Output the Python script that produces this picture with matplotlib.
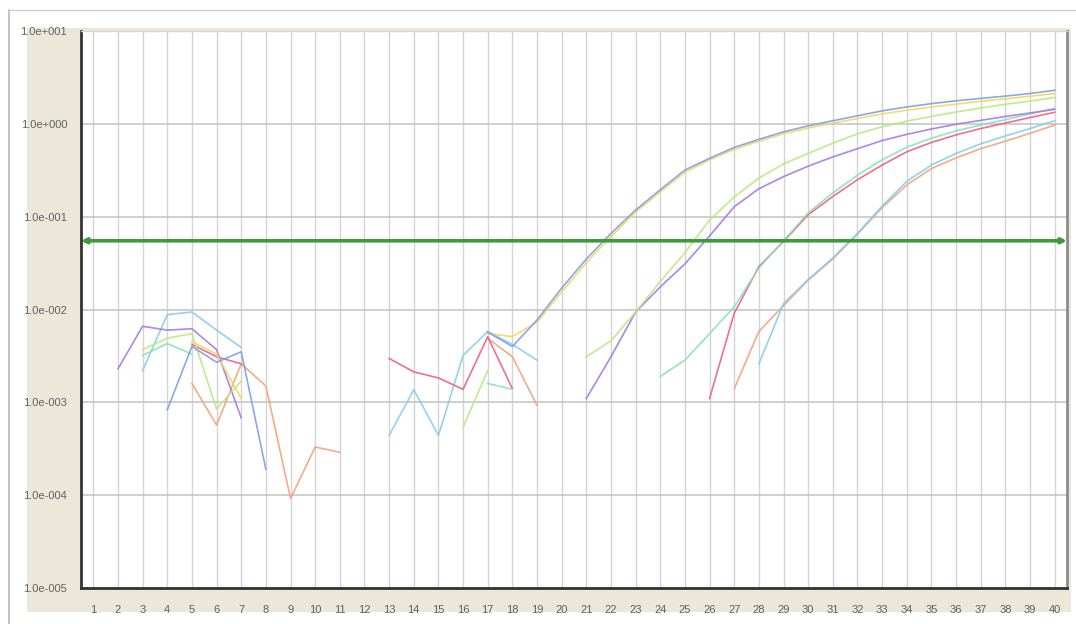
import numpy as np
import matplotlib
matplotlib.use("Agg")
import matplotlib.pyplot as plt
from matplotlib.patches import Rectangle
from matplotlib.lines import Line2D
from matplotlib.ticker import FixedLocator, FuncFormatter, NullLocator
import matplotlib.transforms as mtransforms

plt.rcParams['font.family'] = ['Liberation Sans', 'DejaVu Sans']

# Amplification plot data: fluorescence (delta Rn) per cycle, None = not plotted
cycles = list(range(1, 41))
N = None

blue = [N, N, N, 8.3e-4, 4.0e-3, 2.7e-3, 3.5e-3, 1.9e-4, N, N,
        N, N, N, N, N, N, 5.7e-3, 4.0e-3, 7.7e-3, 0.017,
        0.035, 0.066, 0.118, 0.195, 0.318, 0.425, 0.557, 0.68, 0.82, 0.95,
        1.08, 1.22, 1.38, 1.52, 1.65, 1.77, 1.88, 1.99, 2.12, 2.3]

yellow = [N, N, N, N, 4.5e-3, 3.3e-3, 1.1e-3, N, N, N,
          N, N, N, N, N, N, 5.5e-3, 5.1e-3, 7.3e-3, 0.0155,
          0.032, 0.061, 0.112, 0.185, 0.30, 0.41, 0.53, 0.65, 0.78, 0.90,
          1.02, 1.14, 1.28, 1.40, 1.52, 1.63, 1.75, 1.86, 1.98, 2.12]

lime = [N, N, 3.7e-3, 4.9e-3, 5.5e-3, 8.5e-4, 1.7e-3, N, N, N,
        N, N, N, N, N, 5.4e-4, 2.2e-3, N, N, N,
        3.1e-3, 4.6e-3, 9.4e-3, 0.020, 0.041, 0.092, 0.163, 0.26, 0.37, 0.48,
        0.62, 0.78, 0.93, 1.07, 1.20, 1.34, 1.48, 1.62, 1.76, 1.92]

purple = [N, 2.3e-3, 6.6e-3, 6.0e-3, 6.2e-3, 3.7e-3, 6.8e-4, N, N, N,
          N, N, N, N, N, N, N, N, N, N,
          1.1e-3, 3.1e-3, 9.4e-3, 0.0175, 0.031, 0.062, 0.128, 0.20, 0.27, 0.35,
          0.44, 0.54, 0.66, 0.77, 0.88, 0.99, 1.09, 1.20, 1.31, 1.43]

mint = [N, N, 3.2e-3, 4.3e-3, 3.3e-3, N, N, N, N, N,
        N, N, N, N, N, N, 1.6e-3, 1.38e-3, N, N,
        N, N, N, 1.9e-3, 2.85e-3, 5.5e-3, 0.0107, 0.028, 0.055, 0.11,
        0.18, 0.28, 0.41, 0.56, 0.70, 0.84, 0.97, 1.11, 1.28, 1.47]

red = [N, N, N, N, 4.2e-3, 3.1e-3, 2.6e-3, N, N, N,
       N, N, 2.97e-3, 2.13e-3, 1.83e-3, 1.38e-3, 5.1e-3, 1.4e-3, N, N,
       N, N, N, N, N, 1.1e-3, 9.1e-3, 0.029, 0.054, 0.105,
       0.165, 0.25, 0.36, 0.50, 0.63, 0.76, 0.89, 1.02, 1.17, 1.33]

orange = [N, N, N, N, 1.6e-3, 5.7e-4, 2.6e-3, 1.5e-3, 9.2e-5, 3.3e-4,
          2.9e-4, N, N, N, N, N, 4.9e-3, 3.1e-3, 9.3e-4, N,
          N, N, N, N, N, N, 1.4e-3, 5.8e-3, 0.011, 0.0207,
          0.035, 0.065, 0.125, 0.22, 0.33, 0.43, 0.54, 0.65, 0.79, 0.97]

skyblue = [N, N, 2.2e-3, 8.8e-3, 9.4e-3, 6.0e-3, 3.9e-3, N, N, N,
           N, N, 4.4e-4, 1.37e-3, 4.4e-4, 3.2e-3, 5.8e-3, 4.2e-3, 2.85e-3, N,
           N, N, N, N, N, N, N, 2.6e-3, 0.0116, 0.021,
           0.036, 0.066, 0.13, 0.24, 0.36, 0.48, 0.61, 0.74, 0.89, 1.08]

threshold = 0.055

series = [
    (orange, '#f4a27a'),
    (skyblue, '#86cdee'),
    (red, '#ec5f86'),
    (mint, '#86e4b4'),
    (purple, '#a27ae8'),
    (lime, '#b8ea7c'),
    (yellow, '#f0d860'),
    (blue, '#7d9ee8'),
]

W, H = 1076, 624
fig = plt.figure(figsize=(W / 100, H / 100), dpi=100)
fig.patch.set_facecolor('white')

# beige label panel behind the plot area
fig.patches.append(Rectangle((27 / W, 1 - 612 / H), (1071 - 27) / W, (612 - 28) / H,
                             transform=fig.transFigure, facecolor='#ebe8da',
                             edgecolor='none', zorder=-10))
# window frame
fig.lines.append(Line2D([8.5 / W, 8.5 / W], [0, 1 - 10 / H], transform=fig.transFigure,
                        color='#b8b8b8', lw=1.2, zorder=-5))
fig.lines.append(Line2D([8.5 / W, 1], [1 - 10 / H, 1 - 10 / H], transform=fig.transFigure,
                        color='#d0d0d0', lw=1.0, zorder=-5))

ax = fig.add_axes([81 / W, 1 - 588 / H, (1067 - 81) / W, (588 - 31) / H])
ax.set_zorder(1)
ax.set_facecolor('white')
ax.set_yscale('log')
ax.set_xlim(0.5, 40.5)
ax.set_ylim(1e-5, 1e1)

x = np.array(cycles, dtype=float)
for vals, col in series:
    y = np.array([np.nan if v is None else v for v in vals], dtype=float)
    ax.plot(x, y, color=col, lw=1.2, alpha=0.9, solid_joinstyle='round', zorder=3)

# threshold line with arrow heads at both ends
trans = mtransforms.blended_transform_factory(ax.transAxes, ax.transData)
ax.annotate('', xy=(1.0, threshold), xycoords=trans,
            xytext=(0.0, threshold), textcoords=trans,
            arrowprops=dict(arrowstyle='<|-|>', color='#3c9a3c', lw=2.6,
                            mutation_scale=7, shrinkA=0, shrinkB=0),
            zorder=4)

ax.xaxis.set_major_locator(FixedLocator(cycles))
ax.yaxis.set_major_locator(FixedLocator([10.0 ** k for k in range(-5, 2)]))
ax.yaxis.set_minor_locator(NullLocator())


def sci_label(v, pos):
    e = int(np.round(np.log10(v)))
    return f"1.0e{e:+04d}"


ax.yaxis.set_major_formatter(FuncFormatter(sci_label))
ax.grid(axis='x', color='#d4d4d4', lw=1.0)
ax.grid(axis='y', color='#c2c2c2', lw=1.1)
ax.set_axisbelow(True)
ax.tick_params(axis='both', length=0, labelsize=8, colors='#606060')
ax.tick_params(axis='x', pad=12)
ax.tick_params(axis='y', pad=10)

for side in ('left', 'bottom'):
    ax.spines[side].set_color('#333333')
    ax.spines[side].set_linewidth(2.0)
ax.spines['right'].set_color('#8c8c8c')
ax.spines['right'].set_linewidth(2.0)
ax.spines['top'].set_color('#dcd8cc')
ax.spines['top'].set_linewidth(1.0)

fig.savefig('out.png', dpi=100)
